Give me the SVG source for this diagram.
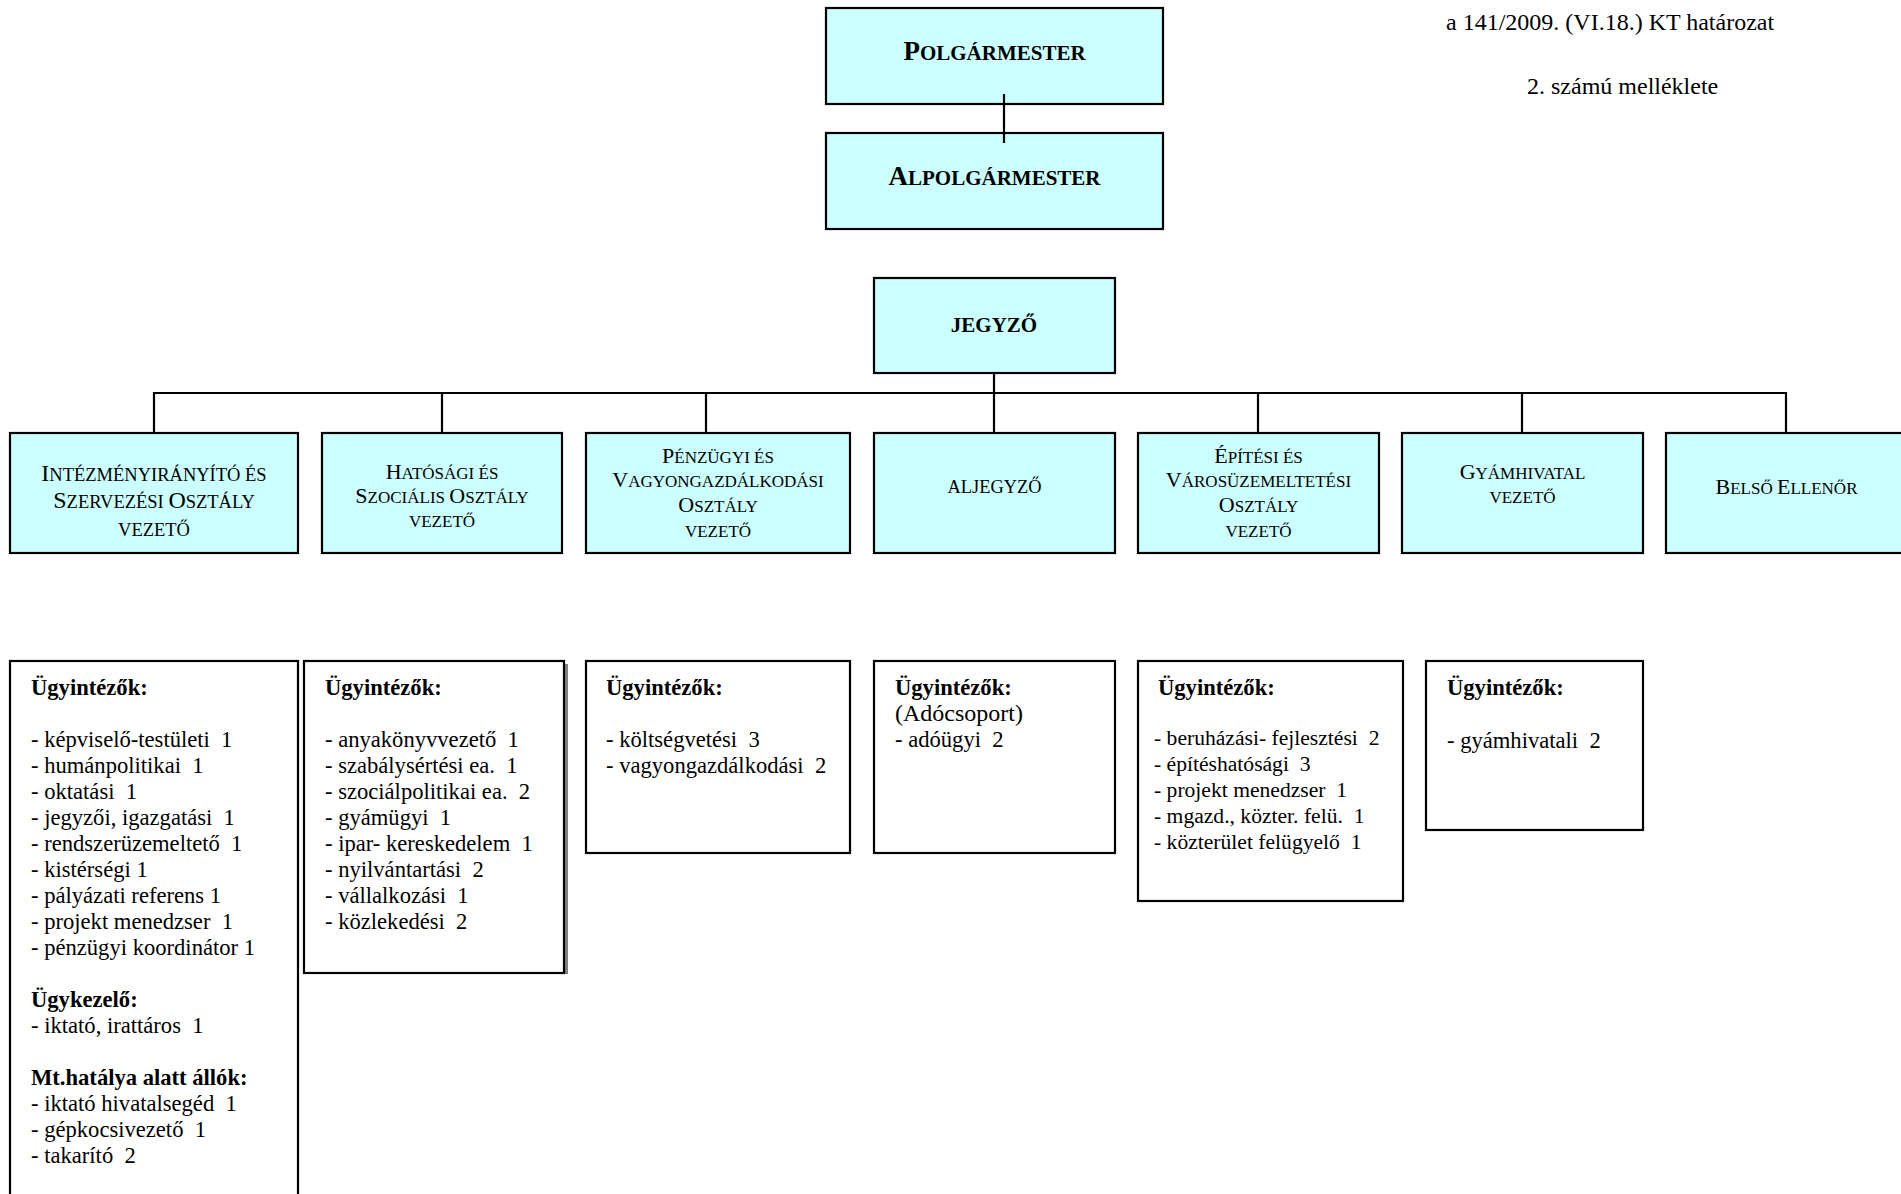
<svg xmlns="http://www.w3.org/2000/svg" width="1901" height="1194" viewBox="0 0 1901 1194">
<style>
.bx{fill:#CCFFFF;stroke:#000;stroke-width:2.2}
.wb{fill:#FFFFFF;stroke:#000;stroke-width:2.2}
.sh{fill:#808080;stroke:none}
.ln{stroke:#000;stroke-width:2.2;fill:none}
text{font-family:"Liberation Serif","Times New Roman",serif;fill:#000;white-space:pre}
.t{font-size:22.6px}
.te{font-size:21.6px}
.h{font-size:22.6px;font-weight:bold}
.hd{font-size:24px}
.c{text-anchor:middle}
.b{font-weight:bold}
</style>
<rect width="1901" height="1194" fill="#FFFFFF"/>

<g id="polgarmester">
<rect class="bx" x="826" y="8" width="337" height="96"/>
<text class="c b" x="994.5" y="59.5" font-size="27">P<tspan font-size="21">OLGÁRMESTER</tspan></text>
</g>
<g id="alpolgarmester">
<rect class="bx" x="826" y="133" width="337" height="96"/>
<text class="c b" x="994.5" y="184.5" font-size="27">A<tspan font-size="21">LPOLGÁRMESTER</tspan></text>
</g>
<g id="jegyzo">
<rect class="bx" x="874" y="278" width="241" height="95"/>
<text class="c b" x="994" y="332" font-size="21">JEGYZŐ</text>
</g>

<g id="header">
<text class="hd" x="1446" y="30">a 141/2009. (VI.18.) KT határozat</text>
<text class="hd" x="1527" y="94">2. számú melléklete</text>
</g>

<g id="intezmeny">
<rect class="bx" x="10" y="433" width="288" height="120"/>
<text class="c" x="154" y="481" font-size="24">I<tspan font-size="18.5">NTÉZMÉNYIRÁNYÍTÓ ÉS</tspan></text>
<text class="c" x="154" y="508" font-size="24">S<tspan font-size="18.5">ZERVEZÉSI </tspan>O<tspan font-size="18.5">SZTÁLY</tspan></text>
<text class="c" x="154" y="536" font-size="18.5">VEZETŐ</text>
</g>
<g id="hatosagi">
<rect class="bx" x="322" y="433" width="240" height="120"/>
<text class="c" x="442" y="478.5" font-size="22">H<tspan font-size="17">ATÓSÁGI ÉS</tspan></text>
<text class="c" x="442" y="503" font-size="22">S<tspan font-size="17">ZOCIÁLIS </tspan>O<tspan font-size="17">SZTÁLY</tspan></text>
<text class="c" x="442" y="527" font-size="17">VEZETŐ</text>
</g>
<g id="penzugyi">
<rect class="bx" x="586" y="433" width="264" height="120"/>
<text class="c" x="718" y="463" font-size="22">P<tspan font-size="17">ÉNZÜGYI ÉS</tspan></text>
<text class="c" x="718" y="487" font-size="22">V<tspan font-size="17">AGYONGAZDÁLKODÁSI</tspan></text>
<text class="c" x="718" y="512" font-size="22">O<tspan font-size="17">SZTÁLY</tspan></text>
<text class="c" x="718" y="537" font-size="17">VEZETŐ</text>
</g>
<g id="aljegyzo">
<rect class="bx" x="874" y="433" width="241" height="120"/>
<text class="c" x="994.5" y="492.5" font-size="18.4">ALJEGYZŐ</text>
</g>
<g id="epitesi">
<rect class="bx" x="1138" y="433" width="241" height="120"/>
<text class="c" x="1258.5" y="463" font-size="22">É<tspan font-size="17">PÍTÉSI ÉS</tspan></text>
<text class="c" x="1258.5" y="487" font-size="22">V<tspan font-size="17">ÁROSÜZEMELTETÉSI</tspan></text>
<text class="c" x="1258.5" y="512" font-size="22">O<tspan font-size="17">SZTÁLY</tspan></text>
<text class="c" x="1258.5" y="537" font-size="17">VEZETŐ</text>
</g>
<g id="gyamhivatal">
<rect class="bx" x="1402" y="433" width="241" height="120"/>
<text class="c" x="1522.5" y="478.5" font-size="22">G<tspan font-size="17">YÁMHIVATAL</tspan></text>
<text class="c" x="1522.5" y="503" font-size="17">VEZETŐ</text>
</g>
<g id="belso-ellenor">
<rect class="bx" x="1666" y="433" width="241" height="120"/>
<text class="c" x="1786.5" y="493.5" font-size="22">B<tspan font-size="17">ELSŐ </tspan>E<tspan font-size="17">LLENŐR</tspan></text>
</g>

<g id="connectors">
<line class="ln" x1="1004" y1="94" x2="1004" y2="143"/>
<line class="ln" x1="994" y1="373" x2="994" y2="433"/>
<polyline class="ln" points="154,433 154,393 1786,393 1786,433"/>
<line class="ln" x1="442" y1="393" x2="442" y2="433"/>
<line class="ln" x1="706" y1="393" x2="706" y2="433"/>
<line class="ln" x1="1258" y1="393" x2="1258" y2="433"/>
<line class="ln" x1="1522" y1="393" x2="1522" y2="433"/>
</g>

<g id="ugyintezok-intezmeny">
<rect class="wb" x="10" y="661" width="288" height="545"/>
<text class="h" x="31" y="695">Ügyintézők:</text>
<text class="t" x="31" y="747">- képviselő-testületi  1</text>
<text class="t" x="31" y="773">- humánpolitikai  1</text>
<text class="t" x="31" y="799">- oktatási  1</text>
<text class="t" x="31" y="825">- jegyzői, igazgatási  1</text>
<text class="t" x="31" y="851">- rendszerüzemeltető  1</text>
<text class="t" x="31" y="877">- kistérségi 1</text>
<text class="t" x="31" y="903">- pályázati referens 1</text>
<text class="t" x="31" y="929">- projekt menedzser  1</text>
<text class="t" x="31" y="955">- pénzügyi koordinátor 1</text>
<text class="h" x="31" y="1007">Ügykezelő:</text>
<text class="t" x="31" y="1033">- iktató, irattáros  1</text>
<text class="h" x="31" y="1085">Mt.hatálya alatt állók:</text>
<text class="t" x="31" y="1111">- iktató hivatalsegéd  1</text>
<text class="t" x="31" y="1137">- gépkocsivezető  1</text>
<text class="t" x="31" y="1163">- takarító  2</text>
</g>

<g id="ugyintezok-hatosagi">
<rect class="sh" x="564" y="664" width="4" height="310"/>
<rect class="wb" x="304" y="661" width="260" height="312"/>
<text class="h" x="325" y="695">Ügyintézők:</text>
<text class="t" x="325" y="747">- anyakönyvvezető  1</text>
<text class="t" x="325" y="773">- szabálysértési ea.  1</text>
<text class="t" x="325" y="799">- szociálpolitikai ea.  2</text>
<text class="t" x="325" y="825">- gyámügyi  1</text>
<text class="t" x="325" y="851">- ipar- kereskedelem  1</text>
<text class="t" x="325" y="877">- nyilvántartási  2</text>
<text class="t" x="325" y="903">- vállalkozási  1</text>
<text class="t" x="325" y="929">- közlekedési  2</text>
</g>

<g id="ugyintezok-penzugyi">
<rect class="wb" x="586" y="661" width="264" height="192"/>
<text class="h" x="606" y="695">Ügyintézők:</text>
<text class="t" x="606" y="747">- költségvetési  3</text>
<text class="t" x="606" y="773">- vagyongazdálkodási  2</text>
</g>

<g id="ugyintezok-aljegyzo">
<rect class="wb" x="874" y="661" width="241" height="192"/>
<text class="h" x="895" y="695">Ügyintézők:</text>
<text x="895" y="721" font-size="24">(Adócsoport)</text>
<text class="t" x="895" y="747">- adóügyi  2</text>
</g>

<g id="ugyintezok-epitesi">
<rect class="wb" x="1138" y="661" width="265" height="240"/>
<text class="h" x="1158" y="695">Ügyintézők:</text>
<text class="te" x="1154" y="745">- beruházási- fejlesztési  2</text>
<text class="te" x="1154" y="771">- építéshatósági  3</text>
<text class="te" x="1154" y="797">- projekt menedzser  1</text>
<text class="te" x="1154" y="823">- mgazd., közter. felü.  1</text>
<text class="te" x="1154" y="849">- közterület felügyelő  1</text>
</g>

<g id="ugyintezok-gyamhivatal">
<rect class="wb" x="1426" y="661" width="217" height="169"/>
<text class="h" x="1447" y="695">Ügyintézők:</text>
<text class="t" x="1447" y="748">- gyámhivatali  2</text>
</g>
</svg>
